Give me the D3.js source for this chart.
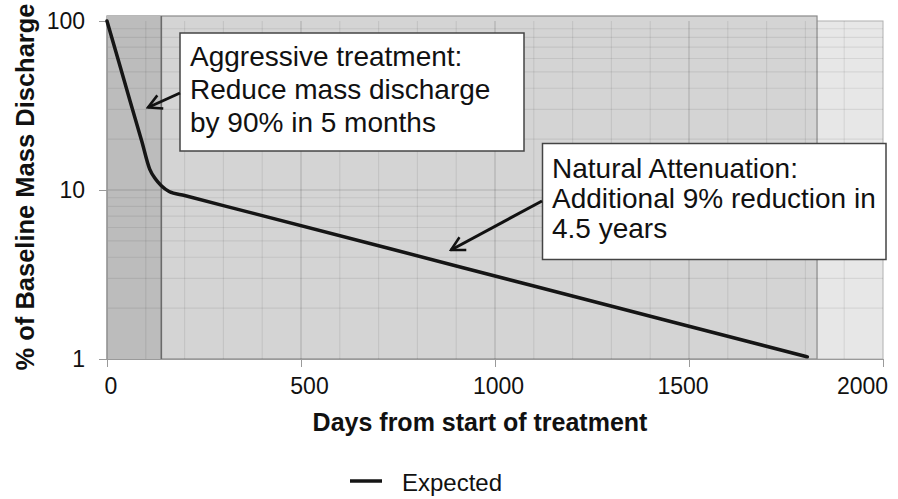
<!DOCTYPE html>
<html>
<head>
<meta charset="utf-8">
<script src="https://cdn.jsdelivr.net/npm/d3@7"></script>
<style>
  html, body { margin: 0; padding: 0; background: #fff; }
  svg { display: block; font-family: "Liberation Sans", Arial, sans-serif; }
</style>
</head>
<body>
<svg id="chart" width="898" height="499"></svg>
<script>
// ---- data ----
const days = [0, 30, 60, 90, 110, 125, 140, 160, 200, 365, 730, 1095, 1460, 1805];
const pct  = [100, 57.8, 33.3, 19.3, 13.3, 11.6, 10.6, 9.8, 9.27, 7.4, 4.49, 2.72, 1.65, 1.03];
const seriesName = "Expected";
const xTicks = [0, 500, 1000, 1500, 2000];
const yTicks = [1, 10, 100];
const phaseEnds = [140, 1830]; // aggressive treatment end, natural attenuation end (days)
const annot1 = ["Aggressive treatment:", "Reduce mass discharge", "by 90% in 5 months"];
const annot2 = ["Natural Attenuation:", "Additional 9% reduction in", "4.5 years"];
const xTitle = "Days from start of treatment";
const yTitle = "% of Baseline Mass Discharge";

// layout: horizontal nudges of x tick labels as placed in the original picture
const xLabelNudge = { 0: 3.5, 500: 8, 1000: 3, 1500: -6.5, 2000: -21 };

const svg = d3.select("#chart");
const x = d3.scaleLinear().domain([0, 2000]).range([107, 883]);
const y = d3.scaleLog().domain([1, 100]).range([359, 21]);

const defs = svg.append("defs");
defs.append("marker").attr("id", "arr").attr("viewBox", "0 0 10 10")
  .attr("refX", 9).attr("refY", 5).attr("markerWidth", 6).attr("markerHeight", 6)
  .attr("orient", "auto").attr("markerUnits", "strokeWidth")
  .append("path").attr("d", "M1.5,1 L9,5 L1.5,9").attr("fill", "none")
  .attr("stroke", "#111").attr("stroke-width", 1.4).attr("stroke-linejoin", "miter");

// plot background (full axis range)
svg.append("rect")
  .attr("x", x(0)).attr("y", y(100)).attr("width", x(2000) - x(0)).attr("height", y(1) - y(100))
  .attr("fill", "#e7e7e7").attr("stroke", "#b0b0b0").attr("stroke-width", 1);

// natural attenuation period (medium)
svg.append("rect")
  .attr("x", x(0)).attr("y", y(100) - 5).attr("width", x(phaseEnds[1]) - x(0)).attr("height", y(1) - y(100) + 5)
  .attr("fill", "#d4d4d4").attr("stroke", "#8a8a8a").attr("stroke-width", 1.2);

// aggressive period (dark)
svg.append("rect")
  .attr("x", x(0)).attr("y", y(100) - 5).attr("width", x(phaseEnds[0]) - x(0)).attr("height", y(1) - y(100) + 5)
  .attr("fill", "#bcbcbc");

// grid
const g = svg.append("g");
d3.range(100, 2000, 100).forEach(d => {
  g.append("line").attr("x1", x(d)).attr("x2", x(d)).attr("y1", y(100)).attr("y2", y(1))
    .attr("stroke", d % 500 === 0 ? "rgba(0,0,0,0.17)" : "rgba(0,0,0,0.075)").attr("stroke-width", 1.2);
});
[1, 10].forEach(dec => {
  d3.range(2, 10).forEach(m => {
    const v = dec * m;
    g.append("line").attr("x1", x(0)).attr("x2", x(2000)).attr("y1", y(v)).attr("y2", y(v))
      .attr("stroke", "rgba(0,0,0,0.075)").attr("stroke-width", 1.2);
  });
});
g.append("line").attr("x1", x(0)).attr("x2", x(2000)).attr("y1", y(10)).attr("y2", y(10))
  .attr("stroke", "rgba(0,0,0,0.17)").attr("stroke-width", 1.2);

// end of aggressive phase line
svg.append("line").attr("x1", x(phaseEnds[0])).attr("x2", x(phaseEnds[0]))
  .attr("y1", y(100) - 5).attr("y2", y(1)).attr("stroke", "#6a6a6a").attr("stroke-width", 1.6);

// axes
const xAxis = svg.append("g").attr("transform", `translate(0,${y(1)})`)
  .call(d3.axisBottom(x).tickValues(xTicks).tickSize(8).tickPadding(11).tickFormat(d3.format("d")));
xAxis.select(".domain").attr("stroke", "#9a9a9a");
xAxis.selectAll(".tick line").attr("stroke", "#9a9a9a");
xAxis.selectAll("text").attr("font-size", 23).attr("fill", "#111").attr("font-family", "Liberation Sans, Arial, sans-serif")
  .attr("x", d => xLabelNudge[d] || 0);

const yAxis = svg.append("g").attr("transform", `translate(${x(0)},0)`)
  .call(d3.axisLeft(y).tickValues(yTicks).tickSize(8).tickPadding(14).tickFormat(d3.format("d")));
yAxis.select(".domain").attr("stroke", "#9a9a9a");
yAxis.selectAll(".tick line").attr("stroke", "#9a9a9a");
yAxis.selectAll("text").attr("font-size", 23).attr("fill", "#111").attr("font-family", "Liberation Sans, Arial, sans-serif");

// data line
const pts = days.map((d, i) => [d, pct[i]]);
svg.append("path").datum(pts)
  .attr("d", d3.line().x(d => x(d[0])).y(d => y(d[1])).curve(d3.curveMonotoneX))
  .attr("fill", "none").attr("stroke", "#151515").attr("stroke-width", 3.5)
  .attr("stroke-linejoin", "round").attr("stroke-linecap", "round");

// annotation boxes
function box(x0, y0, w, h, lines, tx, ty0, dy) {
  svg.append("rect").attr("x", x0).attr("y", y0).attr("width", w).attr("height", h)
    .attr("fill", "#fff").attr("stroke", "#444").attr("stroke-width", 1.5);
  lines.forEach((t, i) => {
    svg.append("text").attr("x", tx).attr("y", ty0 + i * dy)
      .attr("font-size", 28).attr("fill", "#111").text(t);
  });
}
box(180, 33, 344, 118, annot1, 190, 66, 33);
box(542.5, 143.5, 343.5, 116, annot2, 552, 178, 30);

// arrows
svg.append("line").attr("x1", 180).attr("y1", 93).attr("x2", 148).attr("y2", 107.5)
  .attr("stroke", "#111").attr("stroke-width", 3).attr("marker-end", "url(#arr)");
svg.append("line").attr("x1", 542).attr("y1", 201).attr("x2", 451).attr("y2", 250)
  .attr("stroke", "#111").attr("stroke-width", 3).attr("marker-end", "url(#arr)");

// axis titles
svg.append("text").attr("x", 480).attr("y", 431).attr("text-anchor", "middle")
  .attr("font-size", 25).attr("font-weight", "bold").attr("fill", "#111").text(xTitle);
svg.append("text").attr("transform", "translate(34,187) rotate(-90)").attr("text-anchor", "middle")
  .attr("font-size", 25.5).attr("font-weight", "bold").attr("fill", "#111").text(yTitle);

// legend
svg.append("line").attr("x1", 350).attr("x2", 382).attr("y1", 481).attr("y2", 481)
  .attr("stroke", "#151515").attr("stroke-width", 3.5);
svg.append("text").attr("x", 402).attr("y", 491).attr("font-size", 24).attr("fill", "#111").text(seriesName);
</script>
</body>
</html>
